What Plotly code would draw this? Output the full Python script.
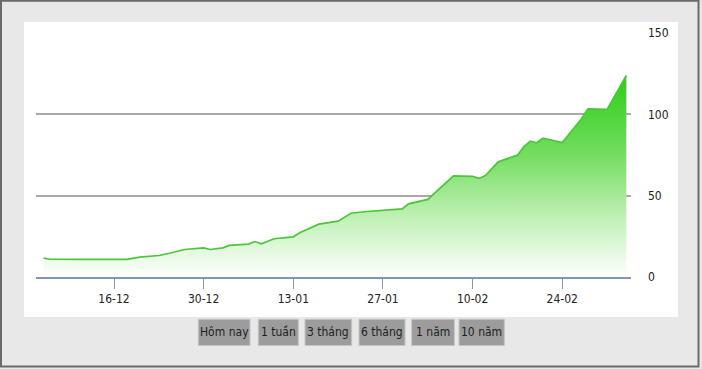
import plotly.graph_objects as go

# ---- data ----
dates = [
    "2024-12-05", "2024-12-06", "2024-12-11", "2024-12-14", "2024-12-17", "2024-12-18",
    "2024-12-20", "2024-12-23", "2024-12-25", "2024-12-27", "2024-12-30",
    "2024-12-31", "2025-01-02", "2025-01-03", "2025-01-06", "2025-01-07",
    "2025-01-08", "2025-01-10", "2025-01-13", "2025-01-14", "2025-01-17",
    "2025-01-20", "2025-01-22", "2025-01-24", "2025-01-30", "2025-01-31",
    "2025-02-03", "2025-02-07", "2025-02-10", "2025-02-11", "2025-02-12",
    "2025-02-14", "2025-02-17", "2025-02-18", "2025-02-19", "2025-02-20",
    "2025-02-21", "2025-02-24", "2025-02-27", "2025-02-28", "2025-03-03",
    "2025-03-06",
]
values = [
    11.6, 10.9, 10.8, 10.8, 10.6, 10.8,
    12.2, 13.2, 14.9, 16.9, 17.9,
    16.9, 17.9, 19.4, 20.2, 21.8,
    20.4, 23.5, 24.7, 27.2, 32.5,
    34.3, 39.2, 40.1, 41.9, 45.0,
    47.7, 62.2, 61.8, 60.6, 62.4,
    70.8, 74.9, 80.1, 83.5, 82.5,
    85.4, 82.7, 97.3, 103.4, 103.0,
    123.9,
]
tick_dates = ["2024-12-16", "2024-12-30", "2025-01-13", "2025-01-27", "2025-02-10", "2025-02-24"]
tick_labels = ["16-12", "30-12", "13-01", "27-01", "10-02", "24-02"]
y_ticks = [0, 50, 100, 150]
buttons = ["Hôm nay", "1 tuần", "3 tháng", "6 tháng", "1 năm", "10 năm"]

# ---- layout geometry (pixels) ----
W, H = 702, 369
ML, MR, MT, MB = 36, 71, 33, 92
PW, PH = W - ML - MR, H - MT - MB


def px(x):
    return (x - ML) / PW


def py(y):
    return (H - MB - y) / PH


FONT = "DejaVu Sans Condensed, Roboto, Arial"

fig = go.Figure()
fig.add_trace(go.Scatter(
    x=dates, y=values, mode="lines",
    line=dict(color="#4cc53a", width=1.7),
    fill="tozeroy",
    fillgradient=dict(type="vertical",
                      colorscale=[[0, "#ffffff"], [0.3, "#bff0b4"], [0.6, "#76dd63"], [1, "#2bce18"]]),
    hoverinfo="skip", showlegend=False,
))

shapes = []
# outer border
shapes.append(dict(type="rect", xref="paper", yref="paper",
                   x0=px(1), x1=px(698.5), y0=py(366.5), y1=py(0.8),
                   line=dict(color="#6a6a6a", width=2), fillcolor="rgba(0,0,0,0)",
                   layer="below"))
# white panel
shapes.append(dict(type="rect", xref="paper", yref="paper",
                   x0=px(24), x1=px(678), y0=py(317), y1=py(22),
                   line=dict(width=0), fillcolor="#ffffff", layer="below"))

button_boxes = [(198.3, 250), (258.3, 298.3), (305, 351.7), (359, 405), (411.7, 454.3), (459, 504.3)]
annotations = []
for label, (bx0, bx1) in zip(buttons, button_boxes):
    shapes.append(dict(type="rect", xref="paper", yref="paper",
                       x0=px(bx0), x1=px(bx1), y0=py(345.5), y1=py(319.3),
                       line=dict(color="#c4c4c4", width=1), fillcolor="#9c9c9c"))
    annotations.append(dict(xref="paper", yref="paper", x=px((bx0 + bx1) / 2), y=py(332.4),
                            text=label, showarrow=False, xanchor="center", yanchor="middle",
                            font=dict(family=FONT, size=12, color="#1e1e1e")))

fig.update_layout(
    width=W, height=H,
    margin=dict(l=ML, r=MR, t=MT, b=MB, pad=0),
    paper_bgcolor="#e8e8e8",
    plot_bgcolor="#ffffff",
    shapes=shapes,
    annotations=annotations,
    xaxis=dict(
        type="date",
        range=["2024-12-03 19:40", "2025-03-06 17:30"],
        tickvals=tick_dates, ticktext=tick_labels,
        showgrid=False, zeroline=False,
        showline=True, linecolor="#8196b4", linewidth=1.5,
        ticks="outside", ticklen=10, tickcolor="#8196b4", tickwidth=1,
        tickfont=dict(family=FONT, size=12, color="#222222"),
        fixedrange=True,
    ),
    yaxis=dict(
        side="right",
        range=[0, 150],
        tickvals=y_ticks,
        showgrid=True, gridcolor="#a8a8a8", gridwidth=1.5,
        zeroline=False, showline=False, ticks="",
        ticklabelstandoff=16,
        tickfont=dict(family=FONT, size=12, color="#222222"),
        fixedrange=True,
    ),
)

fig.write_html("out.html")
